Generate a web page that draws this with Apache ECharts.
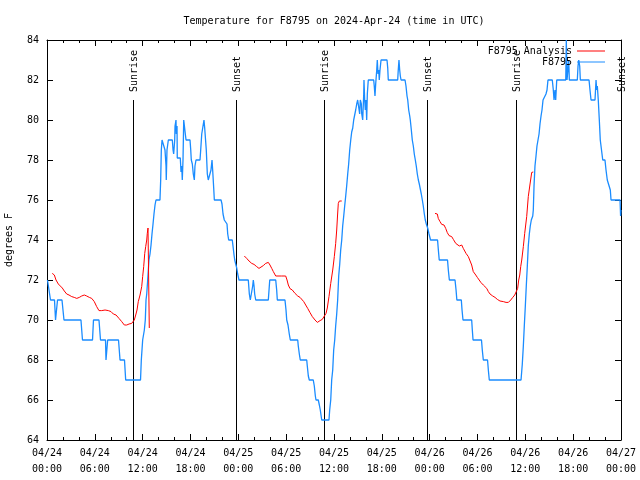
<!DOCTYPE html>
<html><head><meta charset="utf-8">
<script src="https://cdn.jsdelivr.net/npm/echarts@6/dist/echarts.min.js"></script>
<style>html,body{margin:0;padding:0;background:#fff}#c{width:640px;height:480px}</style>
</head><body><div id="c"></div>
<script>
// Time values are hours since 2024-04-24 00:00 UTC
const titleText = 'Temperature for F8795 on 2024-Apr-24 (time in UTC)';
const yName = 'degrees F';
const obsName = 'F8795';
const anaName = 'F8795 Analysis';
const startMonth = '04';
const startDay = 24;

const obsSeries = [
[0.06,72],[0.25,72],[0.44,71],[0.94,71],[1.07,70],[1.19,70],[1.32,71],[1.88,71],[2.13,70],[4.26,70],[4.45,69],[5.71,69],[5.83,70],[6.52,70],[6.71,69],[7.34,69],[7.40,68],[7.53,68],[7.61,69],[8.97,69],[9.16,68],[9.72,68],[9.87,67],[11.73,67],
[11.83,68],[12.00,69],[12.21,69.5],[12.33,70],[12.42,71],[12.51,71.3],[12.63,72],[12.71,72.5],[12.79,73],[12.92,73.3],[13.05,73.75],[13.17,74.3],[13.30,74.8],[13.42,75.3],[13.55,75.75],[13.67,76],[14.17,76],[14.26,77],[14.34,78.5],[14.43,79],
[14.68,79],[14.80,78.5],[14.93,77.7],[14.96,77],[15.05,78.5],[15.22,79],[15.72,79],[15.81,78.5],[15.89,78.3],[16.02,79],[16.06,79.7],[16.18,80],[16.22,79.3],[16.31,79.7],[16.34,78.1],[16.72,78.1],[16.81,77.4],[16.90,77.7],[16.97,77],[17.06,78],[17.15,80],[17.35,79.3],[17.44,79],
[17.94,79],[18.03,78.5],[18.10,78],[18.23,77.8],[18.35,77.3],[18.48,77],[18.56,77.7],[18.69,78],[19.19,78],[19.28,78.5],[19.41,79.3],[19.53,79.6],[19.61,79.8],[19.69,80],[19.78,79.6],[19.91,79.5],[19.98,78.5],[20.11,77.3],[20.23,77],[20.48,77],[20.57,77.5],[20.70,78],[20.78,77.5],[20.91,76.6],[20.99,76],
[21.83,76],[21.95,75.8],[22.08,75.3],[22.24,75],[22.49,75],[22.58,74.8],[22.67,74.3],[22.79,74],[23.24,74],[23.33,73.7],[23.46,73.25],[23.55,73],[23.67,72.8],[23.80,72.6],[23.92,72.3],[24.08,72],[25.25,72],[25.38,71.3],[25.50,71],[25.68,71],[25.80,71.7],[25.88,72],[25.97,71.7],[26.05,71.3],[26.18,71],
[27.76,71],[27.85,71.5],[27.94,72],[28.69,72],[28.81,71.5],[28.89,71],[29.85,71],[29.98,70.5],[30.07,70],[30.23,69.75],[30.39,69.3],[30.52,69],[31.45,69],[31.52,68.7],[31.65,68.3],[31.77,68],[32.58,68],[32.65,67.7],[32.78,67.2],[32.90,67],[33.40,67],[33.53,66.7],[33.66,66.2],[33.74,66],[34.03,66],[34.16,65.75],[34.28,65.5],[34.37,65.25],[34.46,65],[35.37,65],
[35.46,65.5],[35.59,66],[35.71,67],[35.84,67.5],[35.96,68.5],[36.09,69],[36.21,69.7],[36.34,70.3],[36.46,71],[36.59,72.2],[36.72,72.8],[36.84,73.5],[36.97,74],[37.09,74.7],[37.22,75.2],[37.34,75.7],[37.47,76.2],[37.59,76.7],[37.72,77.3],[37.84,77.8],[37.97,78.5],[38.10,79],[38.22,79.4],[38.35,79.6],[38.47,80],[38.60,80.1],[38.72,80.5],[38.85,80.8],[38.97,81],
[39.17,81],[39.22,80.3],[39.30,81],[39.43,80.8],[39.48,80.3],[39.60,80],[39.73,81.3],[39.76,82],[39.85,81],[39.93,80.5],[40.01,81],[40.10,80],[40.18,81.3],[40.30,82],[40.98,82],[41.05,81.7],[41.14,81.2],[41.23,81.8],[41.36,82.5],[41.43,83],[41.52,82.3],[41.61,82.5],[41.68,82],[41.77,82.5],[41.90,83],[42.65,83],[42.74,82.6],[42.81,82],
[43.99,82],[44.06,82.5],[44.15,83],[44.24,82.5],[44.32,82.2],[44.41,82],[44.91,82],[45.03,81.7],[45.16,81.2],[45.25,81],[45.37,80.5],[45.50,80.2],[45.57,80],[45.70,79.5],[45.82,79],[45.95,78.7],[46.07,78.3],[46.20,78],[46.32,77.7],[46.45,77.3],[46.58,77],[46.70,76.8],[46.83,76.7],[46.95,76.3],[47.08,76],[47.20,75.7],[47.33,75.3],[47.45,75],[47.58,74.8],[47.75,74.6],[47.92,74.3],[48.11,74],
[48.99,74],[49.09,73.5],[49.20,73],[50.24,73],[50.34,72.5],[50.47,72],[51.18,72],[51.31,71.5],[51.41,71],[51.97,71],[52.06,70.5],[52.18,70],[53.27,70],[53.35,69.5],[53.44,69],[54.50,69],[54.60,68.5],[54.73,68],[55.26,68],[55.36,67.5],[55.48,67],[59.46,67],
[59.62,67.8],[59.75,68.7],[59.87,69.7],[60.00,70.7],[60.12,71.7],[60.25,72.7],[60.37,73.7],[60.50,74.3],[60.62,74.7],[60.75,75],[60.93,75.2],[61.00,75.5],[61.09,76.7],[61.21,77.7],[61.34,78.2],[61.46,78.7],[61.59,79],[61.72,79.3],[61.84,79.8],[61.97,80.2],[62.09,80.5],[62.22,81],[62.47,81],[62.59,81.3],[62.72,81.5],[62.84,82],
[63.38,82],[63.51,81.5],[63.60,81],[63.72,81.5],[63.81,81],[63.94,82],[65.07,82],[65.14,84],[65.23,82],[65.39,82],[65.44,83],[65.52,82],[66.52,82],[66.61,82.7],[66.70,83],[66.82,82.7],[66.90,82],[67.99,82],[68.11,81.5],[68.24,81],[68.74,81],[68.87,82],[68.95,81.5],[69.03,81.7],[69.15,81],[69.28,80],[69.40,79],[69.58,79],[69.71,78],[69.99,78],[70.12,77.5],[70.28,77],[70.53,77],[70.66,76.5],[70.75,76],[71.88,76],[71.95,75.2],[72.00,75.5]
];

const anaSeg1 = [
[0.66,72.33],[0.92,72.25],[1.13,72],[1.42,71.8],[1.63,71.75],[1.92,71.6],[2.17,71.45],[2.47,71.3],[2.76,71.25],[3.10,71.17],[3.42,71.13],[3.73,71.08],[4.05,71.13],[4.35,71.2],[4.68,71.25],[4.98,71.2],[5.31,71.13],[5.61,71.08],[5.93,70.92],[6.23,70.67],[6.52,70.47],[6.86,70.47],[7.28,70.5],[7.69,70.47],[8.03,70.42],[8.32,70.3],[8.66,70.25],[9.03,70.08],[9.37,69.92],[9.70,69.75],[10.00,69.75],[10.29,69.8],[10.62,69.83],[10.83,69.92],[10.95,70],[11.13,70.25],[11.29,70.5],[11.45,70.92],[11.67,71.25],[11.88,71.67],[12.00,72.17],[12.13,72.67],[12.26,73.33],[12.38,73.67],[12.51,74],[12.58,74.33],[12.67,74.6],[12.83,69.6]
];
const anaSeg2 = [
[24.75,73.2],[25.05,73.08],[25.34,72.95],[25.68,72.83],[25.97,72.78],[26.30,72.67],[26.59,72.58],[26.84,72.58],[27.13,72.72],[27.43,72.83],[27.76,72.88],[27.97,72.75],[28.19,72.58],[28.39,72.42],[28.69,72.2],[29.44,72.2],[29.94,72.2],[30.11,72],[30.27,71.75],[30.48,71.57],[30.77,71.5],[31.11,71.33],[31.45,71.2],[31.74,71.13],[31.95,71.03],[32.20,70.92],[32.45,70.75],[32.70,70.58],[32.99,70.37],[33.28,70.17],[33.62,70],[33.91,69.88],[34.25,69.97],[34.53,70.03],[34.78,70.07],[35.00,70.33],[35.16,70.6],[35.37,71.17],[35.59,71.83],[35.84,72.5],[36.04,73.17],[36.21,73.83],[36.34,74.5],[36.44,75.2],[36.54,75.83],[36.67,75.95],[36.97,75.95]
];
const anaSeg3 = [
[48.67,75.33],[48.96,75.3],[49.08,75.08],[49.30,74.92],[49.51,74.78],[49.80,74.75],[50.01,74.58],[50.21,74.37],[50.43,74.22],[50.76,74.17],[50.97,74.03],[51.27,73.83],[51.47,73.78],[51.72,73.7],[52.02,73.75],[52.22,73.58],[52.56,73.33],[52.85,73.17],[53.06,73.08],[53.27,72.75],[53.47,72.42],[53.78,72.25],[53.98,72.13],[54.19,72.03],[54.44,71.87],[54.73,71.75],[54.94,71.67],[55.16,71.58],[55.36,71.42],[55.57,71.3],[55.91,71.2],[56.20,71.13],[56.49,71.03],[56.82,70.95],[57.24,70.92],[57.58,70.88],[57.87,70.88],[58.17,71],[58.42,71.13],[58.67,71.25],[58.92,71.33],[59.04,71.58],[59.17,72],[59.30,72.25],[59.42,72.67],[59.55,73],[59.75,73.67],[59.92,74.33],[60.17,75.17],[60.37,76.17],[60.59,76.8],[60.80,77.38],[61.00,77.4]
];

const sunHours = [10.83, 23.75, 34.77, 47.70, 58.87, 71.95];
const sunLabels = ['Sunrise', 'Sunset', 'Sunrise', 'Sunset', 'Sunrise', 'Sunset'];
const sunLineTop = 81;

const xMin = 0, xMax = 72, xStep = 6;
const yMin = 64, yMax = 84, yStep = 2;

const FONT = '"DejaVu Sans Mono", "Liberation Mono", monospace';

const anaData = anaSeg1.concat([[18, null]], anaSeg2, [[42, null]], anaSeg3);

function fmtX(v) {
  const d = Math.floor(v / 24 + 1e-9);
  const h = Math.round(v - d * 24);
  return startMonth + '/' + (startDay + d) + '\n' + (h < 10 ? '0' : '') + h + ':00';
}

const chart = echarts.init(document.getElementById('c'), null, {renderer: 'canvas'});
const axisBase = {
  type: 'value',
  axisLine: {show: true, onZero: false, lineStyle: {color: '#000', width: 1}},
  splitLine: {show: false}
};
chart.setOption({
  animation: false,
  backgroundColor: '#fff',
  title: {
    text: titleText, left: 329, top: 11, textAlign: 'center',
    textStyle: {fontFamily: FONT, fontSize: 10, fontWeight: 'normal', color: '#000'}
  },
  legend: {
    data: [anaName, obsName], orient: 'vertical', right: 30, top: 41, align: 'right',
    icon: 'rect', itemWidth: 28, itemHeight: 1, itemGap: 1,
    textStyle: {fontFamily: FONT, fontSize: 10, color: '#000'}
  },
  grid: {left: 47, right: 19, top: 40, bottom: 40, containLabel: false, outerBoundsMode: 'none'},
  xAxis: [
    Object.assign({}, axisBase, {
      min: xMin, max: xMax, interval: xStep, position: 'bottom',
      axisTick: {show: true, inside: true, length: 6, lineStyle: {color: '#000'}},
      minorTick: {show: true, splitNumber: 3, length: 3, lineStyle: {color: '#000'}},
      axisLabel: {formatter: fmtX, fontFamily: FONT, fontSize: 10, color: '#000', lineHeight: 16, margin: 5}
    }),
    Object.assign({}, axisBase, {
      min: xMin, max: xMax, interval: xStep, position: 'top',
      axisTick: {show: true, inside: true, length: 6, lineStyle: {color: '#000'}},
      minorTick: {show: true, splitNumber: 3, length: 3, lineStyle: {color: '#000'}},
      axisLabel: {show: false}
    })
  ],
  yAxis: [
    Object.assign({}, axisBase, {
      min: yMin, max: yMax, interval: yStep, position: 'left',
      name: yName, nameLocation: 'middle', nameGap: 33, nameRotate: 90,
      nameTextStyle: {fontFamily: FONT, fontSize: 10, color: '#000'},
      axisTick: {show: true, inside: true, length: 6, lineStyle: {color: '#000'}},
      axisLabel: {fontFamily: FONT, fontSize: 10, color: '#000', margin: 8}
    }),
    Object.assign({}, axisBase, {
      min: yMin, max: yMax, interval: yStep, position: 'right',
      axisTick: {show: true, inside: true, length: 6, lineStyle: {color: '#000'}},
      axisLabel: {show: false}
    })
  ],
  series: [
    {
      type: 'custom', name: 'sun', silent: true, z: 1,
      xAxisIndex: 0, yAxisIndex: 0,
      data: sunHours.map(h => [h, sunLineTop]),
      encode: {x: 0, y: 1},
      clip: false,
      renderItem: function (params, api) {
        const top = api.coord([api.value(0), sunLineTop]);
        const bot = api.coord([api.value(0), yMin]);
        const x = Math.round(top[0]) + 0.5;
        return {
          type: 'group', children: [
            {type: 'line', shape: {x1: x, y1: top[1], x2: x, y2: bot[1]}, style: {stroke: '#000', lineWidth: 1}},
            {type: 'text', x: x + 1, y: top[1] - 8, rotation: Math.PI / 2,
             style: {text: sunLabels[params.dataIndex], align: 'left', verticalAlign: 'middle', fill: '#000', font: '10px ' + FONT}}
          ]
        };
      }
    },
    {
      type: 'line', name: anaName, xAxisIndex: 0, yAxisIndex: 0, z: 3,
      data: anaData, showSymbol: false, connectNulls: false,
      color: '#ff0000', lineStyle: {color: '#ff0000', width: 1}
    },
    {
      type: 'line', name: obsName, xAxisIndex: 0, yAxisIndex: 0, z: 2,
      data: obsSeries, showSymbol: false,
      color: '#1a8cff', lineStyle: {color: '#1a8cff', width: 1.3}
    }
  ]
});
</script>
</body></html>
